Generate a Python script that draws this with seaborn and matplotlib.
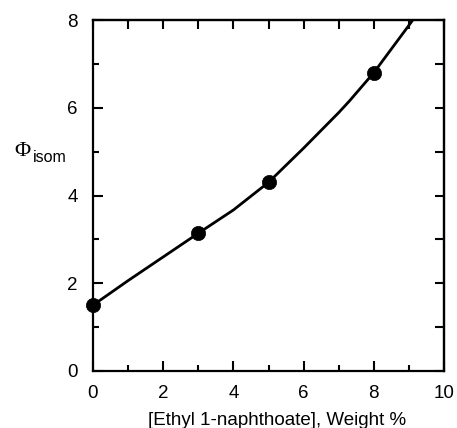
import numpy as np
import pandas as pd
import matplotlib
matplotlib.use("Agg")
import matplotlib.pyplot as plt
import seaborn as sns

# Measured quantum yields of isomerization
conc_wt = [0, 3, 5, 8]
phi_isom = [1.5, 3.14, 4.30, 6.80]

# Smooth guide curve through the data
curve_x = [0, 1, 2, 3, 4, 5, 6, 7, 7.3, 8, 9, 9.2]
curve_y = [1.5, 2.06, 2.60, 3.14, 3.67, 4.30, 5.08, 5.89, 6.15, 6.80, 7.88, 8.1]

x_ticks = [0, 2, 4, 6, 8, 10]
y_ticks = [0, 2, 4, 6, 8]

sns.set_style("ticks")
plt.rcParams["font.family"] = ["Liberation Sans", "DejaVu Sans"]
plt.rcParams["text.color"] = "black"
plt.rcParams["axes.labelcolor"] = "black"

fig = plt.figure(figsize=(4.57, 4.28), dpi=100)
ax = fig.add_axes([0.2035, 0.1332, 0.7681, 0.82])

pts = pd.DataFrame({"x": conc_wt, "y": phi_isom})
crv = pd.DataFrame({"x": curve_x, "y": curve_y})

sns.lineplot(data=crv, x="x", y="y", ax=ax, color="black", linewidth=2.0,
             sort=False, estimator=None)
sns.scatterplot(data=pts, x="x", y="y", ax=ax, color="black", s=105,
                edgecolor="black", linewidth=0.5, zorder=5, clip_on=False)

ax.set_xlim(0, 10)
ax.set_ylim(0, 8)
ax.set_xticks(x_ticks)
ax.set_yticks(y_ticks)
ax.set_xticks(range(0, 11), minor=True)
ax.set_yticks(range(0, 9), minor=True)
ax.tick_params(which="major", direction="in", length=7.5, width=1.5,
               labelsize=13.5, pad=10, colors="black")
ax.tick_params(which="minor", direction="in", length=4.5, width=1.5,
               colors="black")
ax.tick_params(axis="y", which="major", pad=11)

for s in ax.spines.values():
    s.set_linewidth(1.6)
    s.set_visible(True)
    s.set_color("black")

# Uniform ticks on the top and right edges
top = ax.secondary_xaxis("top")
top.set_xticks(range(0, 11))
top.tick_params(direction="in", length=6.5, width=1.5, labeltop=False,
                colors="black")
top.spines["top"].set_linewidth(1.6)
right = ax.secondary_yaxis("right")
right.set_yticks(range(0, 9))
right.tick_params(direction="in", length=6.5, width=1.5, labelright=False,
                  colors="black")
right.spines["right"].set_linewidth(1.6)

ax.set_xlabel("[Ethyl 1-naphthoate], Weight %", fontsize=13.5, color="black")
ax.xaxis.set_label_coords(0.524, -0.118)
ax.set_ylabel("")

fig.text(14 / 457, 1 - 151 / 428, "\u03a6", fontsize=16, color="black",
         family=["Liberation Serif", "DejaVu Serif"], va="center", ha="left")
fig.text(32.5 / 457, 1 - 157 / 428, "isom", fontsize=11.5, color="black",
         va="center", ha="left")

fig.savefig("out.png", dpi=100)
